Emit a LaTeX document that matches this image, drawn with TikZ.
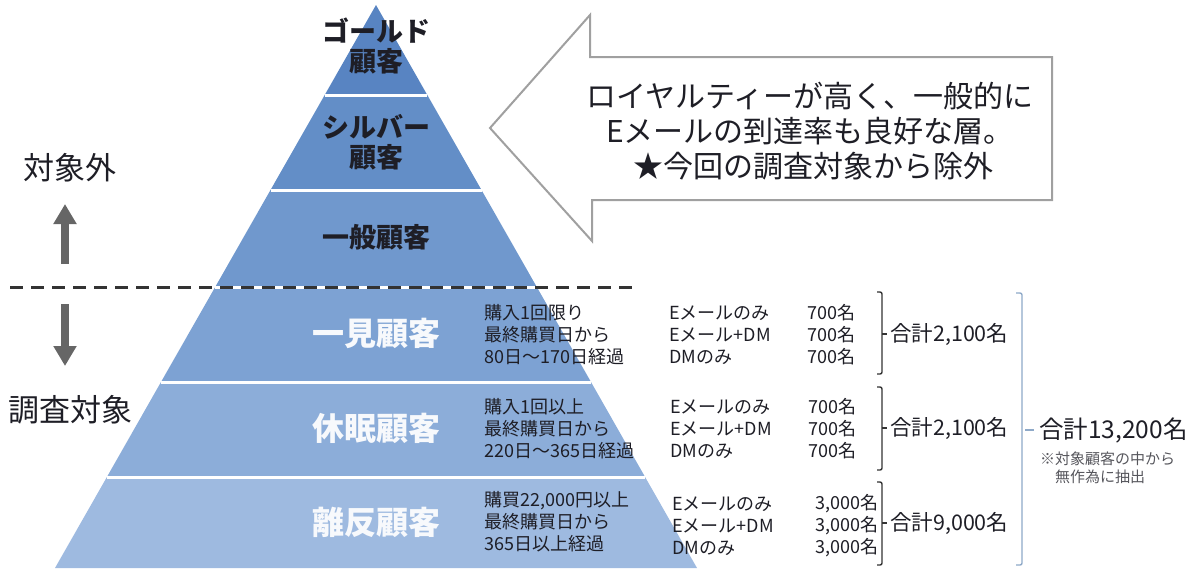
\documentclass[tikz,border=0pt]{standalone}
\usepackage{fontspec}
\setmainfont{Noto Sans CJK JP}
\usetikzlibrary{arrows.meta}
\definecolor{cGold}{HTML}{5884C2}
\definecolor{cSilver}{HTML}{638EC7}
\definecolor{cGen}{HTML}{7098CD}
\definecolor{cIchi}{HTML}{7DA2D3}
\definecolor{cKyu}{HTML}{8CADD9}
\definecolor{cRi}{HTML}{9EBAE0}
\definecolor{cTxt}{HTML}{1E1E26}
\definecolor{cGrayArrow}{HTML}{666666}
\definecolor{cOutline}{HTML}{A0A0A0}
\definecolor{cBrace}{HTML}{8EA9C8}
\definecolor{cDash}{HTML}{333333}
\tikzset{
  lvl/.style={inner sep=0pt, font=\fontsize{27}{32}\selectfont\bfseries, text=cTxt, align=center},
  lvlw/.style={inner sep=0pt, font=\fontsize{32}{36}\selectfont\bfseries, text=white!94!cIchi},
  side/.style={inner sep=0pt, font=\fontsize{31}{36}\selectfont, text=cTxt},
  det/.style={inner sep=0pt, font=\fontsize{18}{22}\selectfont, text=cTxt, align=left},
  detr/.style={inner sep=0pt, font=\fontsize{18}{22}\selectfont, text=cTxt, align=right},
  tot/.style={inner sep=0pt, font=\fontsize{21.5}{24}\selectfont, text=cTxt, anchor=west},
  sep/.style={white, line width=3pt},
  brk/.style={cDash, line width=1.4pt, rounded corners=2pt},
  bigarrow/.style={cGrayArrow, line width=8pt, -{Triangle[width=22pt,length=20pt]}}
}
\begin{document}
\begin{tikzpicture}[x=1pt,y=-1pt]
\useasboundingbox (0,0) rectangle (1192,571);
% pyramid layers
\fill[cGold] (376,5) -- (427.3,95) -- (324.7,95) -- cycle;
\fill[cSilver] (324.7,95) -- (427.3,95) -- (481.5,190) -- (270.5,190) -- cycle;
\fill[cGen] (270.5,190) -- (481.5,190) -- (536.8,287) -- (215.2,287) -- cycle;
\fill[cIchi] (215.2,287) -- (536.8,287) -- (591,382) -- (161,382) -- cycle;
\fill[cKyu] (161,382) -- (591,382) -- (645.1,477) -- (106.9,477) -- cycle;
\fill[cRi] (106.9,477) -- (645.1,477) -- (697,568) -- (55,568) -- cycle;
\draw[sep] (324.7,95) -- (427.3,95);
\draw[sep] (270.5,190) -- (481.5,190);
\draw[sep] (215.2,287) -- (536.8,287);
\draw[sep] (161,382) -- (591,382);
\draw[sep] (106.9,477) -- (645.1,477);
% dashed border
\coordinate (dl) at (10,287);
\coordinate (dr) at (637,287);
\draw[cDash, line width=3pt, dash pattern=on 13pt off 8pt] (dl) -- (dr);
% layer labels
\node[lvl] (gold) at (376,46) {ゴールド\\[-2pt]顧客};
\node[lvl] (silver) at (376,142) {シルバー\\[-2pt]顧客};
\node[lvl] (gen) at (376,237) {一般顧客};
\node[lvlw] (ichi) at (376,333) {一見顧客};
\node[lvlw] (kyu) at (376,428) {休眠顧客};
\node[lvlw] (ri) at (376,522) {離反顧客};
% side labels and arrows
\node[side] (out) at (70,168) {対象外};
\node[side] (tgt) at (71,410) {調査対象};
\coordinate (ua0) at (65,264);
\coordinate (ua1) at (65,204);
\coordinate (da0) at (65,304);
\coordinate (da1) at (65,366);
\draw[bigarrow] (ua0) -- (ua1);
\draw[bigarrow] (da0) -- (da1);
% callout arrow
\draw[cOutline, line width=2pt, fill=white, line join=miter]
  (490,128) -- (590,15) -- (590,57) -- (1052,57) -- (1052,200) -- (592,200) -- (592,241) -- cycle;
\node[inner sep=0pt, font=\fontsize{30}{35}\selectfont, text=cTxt, align=center] (note) at (810,131)
  {ロイヤルティーが高く、一般的に\\Eメールの到達率も良好な層。\\\hspace*{0.2em}★今回の調査対象から除外};
% details 一見
\node[det, anchor=west] (d1a) at (484,335) {購入1回限り\\最終購買日から\\80日～170日経過};
\node[det, anchor=west] (d1b) at (669,335) {Eメールのみ\\Eメール+DM\\DMのみ};
\node[detr, anchor=east] (d1c) at (856,335) {700名\\700名\\700名};
% details 休眠
\node[det, anchor=west] (d2a) at (484,429) {購入1回以上\\最終購買日から\\220日～365日経過};
\node[det, anchor=west] (d2b) at (670,429) {Eメールのみ\\Eメール+DM\\DMのみ};
\node[detr, anchor=east] (d2c) at (857,429) {700名\\700名\\700名};
% details 離反
\node[det, anchor=west] (d3a) at (484,522) {購買22,000円以上\\最終購買日から\\365日以上経過};
\node[det, anchor=west] (d3b) at (672,526) {Eメールのみ\\Eメール+DM\\DMのみ};
\node[detr, anchor=east] (d3c) at (879,526) {3,000名\\3,000名\\3,000名};
% small brackets
\draw[brk] (877,292) -- (882,292) -- (882,374) -- (877,374);
\draw[brk] (882,334) -- (887,334);
\draw[brk] (877,387) -- (882,387) -- (882,470) -- (877,470);
\draw[brk] (882,428) -- (887,428);
\draw[brk] (877,482) -- (882,482) -- (882,565) -- (877,565);
\draw[brk] (882,523) -- (887,523);
\node[tot] (t1) at (890,334) {合計2,100名};
\node[tot] (t2) at (890,428) {合計2,100名};
\node[tot] (t3) at (890,523) {合計9,000名};
% big bracket
\draw[cBrace, line width=1.4pt, rounded corners=2pt] (1016,293) -- (1022,293) -- (1022,565) -- (1016,565);
\draw[cBrace, line width=1.4pt] (1025,430) -- (1034,430);
\node[inner sep=0pt, font=\fontsize{24.5}{28}\selectfont, text=cTxt, anchor=west] (tall) at (1039,430) {合計13,200名};
\node[inner sep=0pt, font=\fontsize{15}{18}\selectfont, text=cTxt!75, align=left, anchor=north west] (remark) at (1040,452)
  {※対象顧客の中から\\\hspace*{1em}無作為に抽出};
\end{tikzpicture}
\end{document}
